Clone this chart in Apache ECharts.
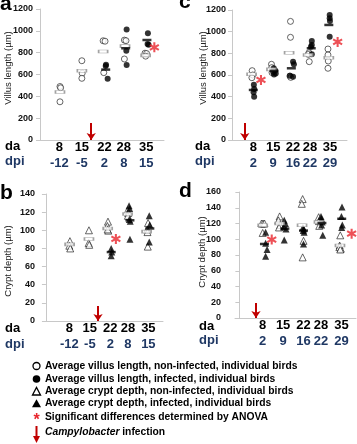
<!DOCTYPE html>
<html>
<head>
<meta charset="utf-8">
<script src="https://cdn.jsdelivr.net/npm/echarts@6/dist/echarts.min.js"></script>
<style>
  html, body { margin: 0; padding: 0; background: #fff; }
  #chart { width: 357px; height: 444px; }
</style>
</head>
<body>
<div id="chart"></div>
<script>
// days of age shown under each panel, and days post infection
const days = [8, 15, 22, 28, 35]
const dpiAB = [-12, -5, 2, 8, 15]
const dpiCD = [2, 9, 16, 22, 29]

// panel a - villus length, first experiment  [day (with jitter), value]
const aOpen = [[8.2, 490], [8.4, 478], [8.2, 350], [15, 726], [15.1, 612], [15, 565],
  [21.6, 909], [22.2, 905], [21.8, 617], [28.2, 915], [28.7, 910], [28.2, 742],
  [34.6, 795], [35.1, 792], [34.8, 768]]
const aFilled = [[22.5, 690], [22.4, 678], [23, 560], [28.9, 1013], [28.8, 818], [28.9, 687],
  [35.5, 977], [35.4, 880], [35.7, 872]]
const aMeanOpen = [[8.2, 440], [15, 635], [21.6, 810], [28.4, 860], [34.8, 775]]
const aMeanFilled = [[22.4, 645], [28.6, 840], [35.2, 916]]
const aSig = [[37.5, 849]]

// panel c - villus length, second experiment
const cOpen = [[7.6, 640], [7.8, 600], [7.5, 575], [14.4, 699], [14.5, 668], [14.6, 622],
  [21.1, 1095], [21.1, 948], [20.9, 590], [21.2, 578], [27.6, 805], [27.4, 790], [27.7, 723],
  [34.3, 840], [34.3, 785], [34.4, 729], [34.3, 662]]
const cFilled = [[8.2, 510], [8.3, 470], [8.1, 440], [8.3, 400], [15.2, 662], [15.7, 642],
  [15, 628], [15.9, 615], [15.3, 605], [22, 723], [22.3, 699], [20.9, 594], [22, 585],
  [28.6, 914], [28.6, 877], [28.3, 861], [28.6, 791], [34.9, 1154], [34.9, 1123], [35, 1099], [34.9, 954]]
const cMeanOpen = [[7.4, 607], [14.4, 652], [20.6, 806], [27.3, 785], [34.6, 760]]
const cMeanFilled = [[8, 462], [15.3, 638], [21.4, 662], [28.4, 847], [34.6, 1062]]
const cSig = [[10.7, 554], [37.7, 905]]

// panel b - crypt depth, first experiment
const bOpen = [[8.2, 88], [8, 83], [8.3, 80], [14.7, 100], [14.6, 86], [14.8, 84],
  [21.2, 109.5], [21, 104.7], [21.3, 99.6], [21.1, 101], [27.9, 122], [28.1, 119], [28, 116],
  [34.9, 108], [34.6, 101], [34.7, 98], [34.8, 82]]
const bFilled = [[22.3, 80], [22.5, 76], [22.3, 72], [28.4, 127], [28.6, 124], [28.5, 112],
  [28.8, 110], [28.7, 90], [35.3, 116], [35.5, 106], [35.3, 87]]
const bMeanOpen = [[8.1, 84.5], [14.7, 90.4], [21.1, 102], [27.9, 118], [34.4, 98.5]]
const bMeanFilled = [[22.3, 76], [28.7, 111], [35.5, 102]]
const bSig = [[23.9, 90.4]]

// panel d - crypt depth, second experiment
const dOpen = [[7.6, 120], [8.1, 120], [8.6, 120], [8, 108], [13.8, 129], [13.4, 124], [14, 118],
  [13.6, 115], [21.7, 151], [21.4, 145], [22, 98], [21.7, 77], [27.2, 128], [27.3, 123], [27.4, 117],
  [34.6, 105], [34.4, 92], [34.3, 90], [34.8, 88], [34.6, 87]]
const dFilled = [[9, 109], [9, 95], [9.5, 87], [9, 78.5], [15.4, 124], [15.8, 120], [15.2, 115.6],
  [16, 113], [15.4, 99], [21.8, 115], [22.1, 113], [21.9, 111], [22.2, 109], [22, 94],
  [28, 129], [28.2, 126], [28.4, 122], [28.2, 118], [28.6, 105], [35.2, 141], [35, 129], [35.3, 118], [35.1, 115]]
const dMeanOpen = [[8, 117.7], [13.8, 120], [21.5, 117.7], [27.3, 122], [34.5, 92]]
const dMeanFilled = [[8.6, 94], [15.6, 113.5], [22, 111], [28.3, 120.6], [35.1, 126]]
const dSig = [[11.1, 99.6], [38.5, 107]]

// infection arrows [day, top of arrow]
const arrowA = [17.9, 156]
const arrowC = [5, 157]
const arrowB = [17.8, 16.5]
const arrowD = [5.7, 19]

const F = 'Liberation Sans, Arial, sans-serif'
const RED = '#e8262d'
const DARKRED = '#c00000'
const NAVY = '#1f3864'
const STAR = 'path://M-1,-5L1,-5L1,5L-1,5Z M3.83,3.37L-4.83,-1.63L-3.83,-3.37L4.83,1.63Z M4.83,-1.63L-3.83,3.37L-4.83,1.63L3.83,-3.37Z'

const chart = echarts.init(document.getElementById('chart'), null, { renderer: 'canvas' })

function xAxis(i, min, max, dpi) {
  return {
    type: 'value', gridIndex: i, min: min, max: max,
    axisLine: { show: true, lineStyle: { color: '#c8c8c8', width: 1 } },
    axisTick: { show: false },
    splitLine: { show: false },
    axisLabel: {
      customValues: days,
      margin: 0,
      formatter: function (v) {
        const k = days.indexOf(v)
        return '{d|' + v + '}\n{p|' + dpi[k] + '}'
      },
      rich: {
        d: { fontSize: 13, fontWeight: 'bold', color: '#000', lineHeight: 15.5, fontFamily: F },
        p: { fontSize: 13, fontWeight: 'bold', color: NAVY, lineHeight: 15.5, fontFamily: F }
      }
    }
  }
}

function yAxis(i, max, interval, margin) {
  return {
    type: 'value', gridIndex: i, min: 0, max: max, interval: interval,
    axisLine: { show: true, lineStyle: { color: '#c8c8c8', width: 1 } },
    axisTick: { show: true, length: 4, lineStyle: { color: '#c8c8c8' } },
    splitLine: { show: false },
    axisLabel: {
      fontSize: 9, fontWeight: 'bold', color: '#111', margin: margin, fontFamily: F,
      formatter: function (v) { return String(v) }
    }
  }
}

function panel(i, open, filled, meanOpen, meanFilled, sig, arrow, tri) {
  const sym = tri ? 'triangle' : 'circle'
  const size = tri ? 7 : 6
  return [
    {
      type: 'scatter', xAxisIndex: i, yAxisIndex: i, data: open,
      symbol: sym, symbolSize: size,
      itemStyle: { color: '#fff', borderColor: '#111', borderWidth: 0.8 },
      markLine: {
        silent: true, animation: false,
        symbol: ['none', 'arrow'], symbolSize: 7,
        label: { show: false },
        lineStyle: { color: DARKRED, width: 2, type: 'solid' },
        data: [[{ coord: [arrow[0], arrow[1]] }, { coord: [arrow[0], 0] }]]
      }
    },
    {
      type: 'scatter', xAxisIndex: i, yAxisIndex: i, data: filled,
      symbol: sym, symbolSize: size,
      itemStyle: { color: '#000' }
    },
    {
      type: 'scatter', xAxisIndex: i, yAxisIndex: i, data: meanOpen,
      symbol: 'rect', symbolSize: [9, 3],
      itemStyle: { color: '#fff', borderColor: '#8c8c8c', borderWidth: 1 }
    },
    {
      type: 'scatter', xAxisIndex: i, yAxisIndex: i, data: meanFilled,
      symbol: 'rect', symbolSize: [9, 2.5],
      itemStyle: { color: '#000' }
    },
    {
      type: 'scatter', xAxisIndex: i, yAxisIndex: i, data: sig,
      symbol: STAR, symbolSize: 10,
      itemStyle: { color: RED }
    }
  ]
}

function text(x, y, str, style) {
  return {
    type: 'text', x: x, y: y, silent: true,
    style: Object.assign({ text: str, fontFamily: F, fill: '#000', verticalAlign: 'middle' }, style || {})
  }
}

const graphics = [
  text(0, 4, 'a', { fontSize: 21, fontWeight: 'bold' }),
  text(0, 193, 'b', { fontSize: 21, fontWeight: 'bold' }),
  text(179, 2, 'c', { fontSize: 21, fontWeight: 'bold' }),
  text(179, 191, 'd', { fontSize: 21, fontWeight: 'bold' }),
  text(5, 146, 'da', { fontSize: 13, fontWeight: 'bold' }),
  text(5, 161.5, 'dpi', { fontSize: 13, fontWeight: 'bold', fill: NAVY }),
  text(195, 146, 'da', { fontSize: 13, fontWeight: 'bold' }),
  text(195, 161.5, 'dpi', { fontSize: 13, fontWeight: 'bold', fill: NAVY }),
  text(5, 328, 'da', { fontSize: 13, fontWeight: 'bold' }),
  text(5, 344, 'dpi', { fontSize: 13, fontWeight: 'bold', fill: NAVY }),
  text(199, 326, 'da', { fontSize: 13, fontWeight: 'bold' }),
  text(199, 340, 'dpi', { fontSize: 13, fontWeight: 'bold', fill: NAVY }),
  Object.assign(text(8, 68, 'Villus length (µm)', { fontSize: 9.5, align: 'center', fill: '#222' }), { rotation: Math.PI / 2 }),
  Object.assign(text(203, 68, 'Villus length (µm)', { fontSize: 9.5, align: 'center', fill: '#222' }), { rotation: Math.PI / 2 }),
  Object.assign(text(8, 261, 'Crypt depth (µm)', { fontSize: 9.5, align: 'center', fill: '#222' }), { rotation: Math.PI / 2 }),
  Object.assign(text(202, 252, 'Crypt depth (µm)', { fontSize: 9.5, align: 'center', fill: '#222' }), { rotation: Math.PI / 2 })
]

// legend
const legendText = [
  'Average villus length, non-infected, individual birds',
  'Average villus length, infected, individual birds',
  'Average crypt depth, non-infected, individual birds',
  'Average crypt depth, infected, individual birds',
  'Significant differences determined by ANOVA'
]
const legendY = [366, 379, 391.5, 403.5, 417, 432.5]
legendText.forEach(function (t, k) {
  graphics.push(text(45, legendY[k], t, { fontSize: 10.3, fontWeight: 'bold' }))
})
graphics.push({ type: 'circle', shape: { cx: 36.5, cy: legendY[0], r: 3.5 }, style: { fill: '#fff', stroke: '#000', lineWidth: 1.3 }, silent: true })
graphics.push({ type: 'circle', shape: { cx: 36.5, cy: legendY[1], r: 3.8 }, style: { fill: '#000' }, silent: true })
graphics.push({ type: 'polygon', shape: { points: [[32.5, legendY[2] + 3.5], [40.5, legendY[2] + 3.5], [36.5, legendY[2] - 4]] }, style: { fill: '#fff', stroke: '#000', lineWidth: 1.3 }, silent: true })
graphics.push({ type: 'polygon', shape: { points: [[32, legendY[3] + 3.8], [41, legendY[3] + 3.8], [36.5, legendY[3] - 4.2]] }, style: { fill: '#000' }, silent: true })
graphics.push(text(36.5, legendY[4] + 4, '*', { fontSize: 16, fontWeight: 'bold', fill: RED, align: 'center' }))
graphics.push({ type: 'line', shape: { x1: 36.5, y1: 426, x2: 36.5, y2: 437 }, style: { stroke: DARKRED, lineWidth: 2 }, silent: true })
graphics.push({ type: 'polygon', shape: { points: [[33, 436], [40, 436], [36.5, 443]] }, style: { fill: DARKRED }, silent: true })
graphics.push(text(45, legendY[5], '{i|Campylobacter} infection', {
  fontSize: 10.3, fontWeight: 'bold',
  rich: { i: { fontStyle: 'italic', fontWeight: 'bold', fontSize: 10.3, fontFamily: F } }
}))

chart.setOption({
  animation: false,
  grid: [
    { left: 40, top: 9, width: 124, height: 131, outerBoundsMode: 'none' },
    { left: 232, top: 10, width: 115, height: 130, outerBoundsMode: 'none' },
    { left: 43, top: 194, width: 120, height: 127, outerBoundsMode: 'none' },
    { left: 235, top: 192, width: 121, height: 126, outerBoundsMode: 'none' }
  ],
  xAxis: [
    xAxis(0, 2, 40.5, dpiAB),
    xAxis(1, 0.5, 41, dpiCD),
    xAxis(2, -1, 40, dpiAB),
    xAxis(3, -1.5, 40, dpiCD)
  ],
  yAxis: [
    yAxis(0, 1200, 200, 7),
    yAxis(1, 1200, 200, 6),
    yAxis(2, 140, 20, 8),
    yAxis(3, 160, 20, 14)
  ],
  series: [].concat(
    panel(0, aOpen, aFilled, aMeanOpen, aMeanFilled, aSig, arrowA, false),
    panel(1, cOpen, cFilled, cMeanOpen, cMeanFilled, cSig, arrowC, false),
    panel(2, bOpen, bFilled, bMeanOpen, bMeanFilled, bSig, arrowB, true),
    panel(3, dOpen, dFilled, dMeanOpen, dMeanFilled, dSig, arrowD, true)
  ),
  graphic: graphics
})
</script>
</body>
</html>
